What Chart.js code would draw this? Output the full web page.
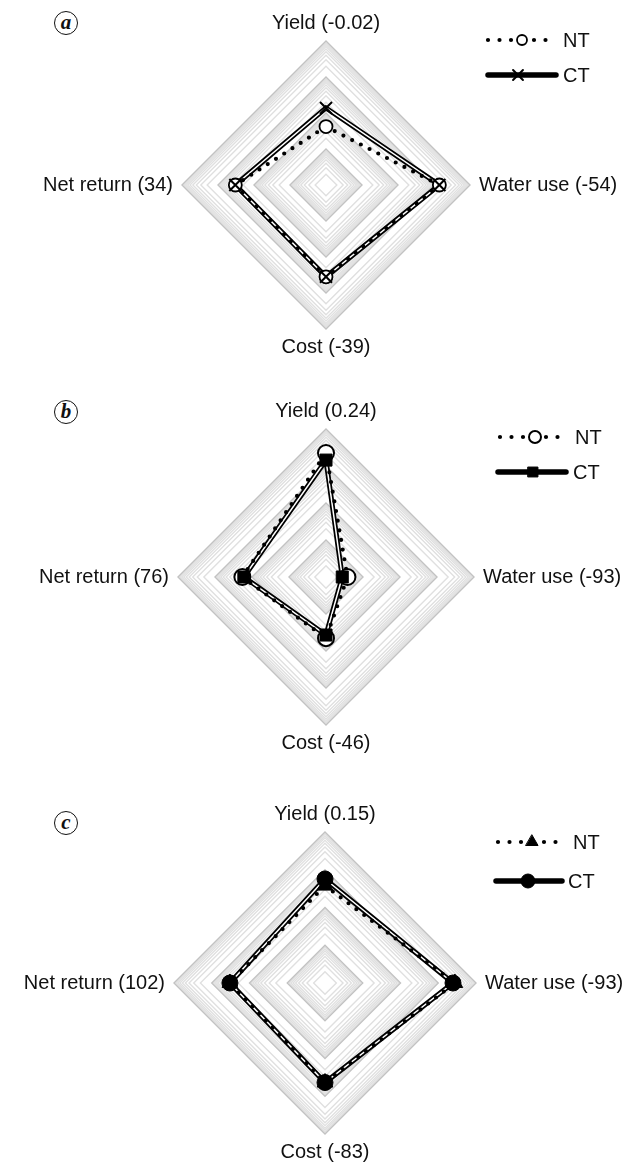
<!DOCTYPE html>
<html>
<head>
<meta charset="utf-8">
<script src="https://cdn.jsdelivr.net/npm/chart.js@4.4.1/dist/chart.umd.min.js"></script>
<style>
  html, body { margin: 0; padding: 0; background: #fff; }
  body { width: 643px; height: 1171px; position: relative; overflow: hidden; }
  .panel { position: absolute; left: 0; }
  .tag {
    position: absolute; width: 22px; height: 22px; border: 1.6px solid #111; border-radius: 50%;
    font: italic bold 21px "Liberation Serif", "Times New Roman", serif; color: #111;
    text-align: center; line-height: 20px;
  }
</style>
</head>
<body>
<div class="tag" style="left:54px;top:11px;">a</div>
<div class="tag" style="left:54px;top:400px;">b</div>
<div class="tag" style="left:54px;top:811px;">c</div>
<canvas id="chartA" class="panel" width="643" height="348" style="top:11px"></canvas>
<canvas id="chartB" class="panel" width="643" height="356" style="top:399px"></canvas>
<canvas id="chartC" class="panel" width="643" height="362" style="top:802px"></canvas>
<script>
// Axes (clockwise from the top) and the NT-vs-CT difference shown beside each axis name
const axisNames = ['Yield', 'Water use', 'Cost', 'Net return'];
const diffA = ['-0.02', '-54', '-39', '34'];
const diffB = ['0.24', '-93', '-46', '76'];
const diffC = ['0.15', '-93', '-83', '102'];

// Values on the logarithmic radial axis (1 at the centre, 10000 on the outer ring)
const ntA = [42, 1410, 355, 330];
const ctA = [138, 1410, 355, 330];
const ntB = [2240, 3.8, 45, 182];
const ctB = [1445, 2.75, 37, 166];
const ntC = [380, 2760, 433, 330];
const ctC = [570, 2460, 433, 330];

// Ring values: every 1..10 step inside each of four decades
const decades = [1, 10, 100, 1000];
const ringSteps = [2, 3, 4, 5, 6, 7, 8, 9, 10];
const ringValues = [1].concat(...decades.map(d => ringSteps.map(k => k * d)));

const FONT = '"Liberation Sans", Arial, Helvetica, sans-serif';

function legendPlugin(items) {
  return {
    id: 'pairLegend',
    afterDraw(chart) {
      const ctx = chart.ctx;
      ctx.save();
      items.forEach(it => {
        // line sample
        ctx.beginPath();
        ctx.strokeStyle = '#000';
        ctx.lineCap = 'round';
        ctx.lineWidth = it.lineWidth;
        ctx.setLineDash(it.dash);
        ctx.moveTo(it.x0, it.y);
        ctx.lineTo(it.x1, it.y);
        ctx.stroke();
        ctx.setLineDash([]);
        // marker
        ctx.fillStyle = it.fill;
        ctx.strokeStyle = '#000';
        ctx.lineWidth = it.marker.borderWidth;
        Chart.helpers.drawPoint(ctx, it.marker, it.mx, it.y);
        // text
        ctx.fillStyle = '#111';
        ctx.font = '20px ' + FONT;
        ctx.textAlign = 'left';
        ctx.textBaseline = 'middle';
        ctx.fillText(it.text, it.tx, it.y + 1);
      });
      ctx.restore();
    }
  };
}

function makeRadar(id, diffs, nt, ct, ntMarker, ctMarker, legendItems, padLeft) {
  const labels = axisNames.map((n, i) => n + ' (' + diffs[i] + ')');
  const ntLog = nt.map(v => Math.log10(v));
  const ctLog = ct.map(v => Math.log10(v));
  const base = { fill: false, tension: 0, pointHoverRadius: 0 };
  new Chart(document.getElementById(id), {
    type: 'radar',
    data: {
      labels,
      datasets: [
        // CT markers, drawn on top
        Object.assign({}, base, {
          label: 'CT', data: ctLog, showLine: false, order: 0,
          borderColor: '#000', backgroundColor: ctMarker.fill,
          pointStyle: ctMarker.pointStyle, pointRadius: ctMarker.radius,
          pointBorderWidth: ctMarker.borderWidth, pointBorderColor: '#000', pointBackgroundColor: ctMarker.fill
        }),
        // NT dotted line with its markers
        Object.assign({}, base, {
          label: 'NT', data: ntLog, order: 1,
          borderColor: '#000', borderWidth: 4.2, borderDash: [0, 9.8], borderCapStyle: 'round', borderJoinStyle: 'round',
          pointStyle: ntMarker.pointStyle, pointRadius: ntMarker.radius,
          pointBorderWidth: ntMarker.borderWidth, pointBorderColor: '#000', pointBackgroundColor: ntMarker.fill
        }),
        // CT line: thin white core over a heavy black stroke
        Object.assign({}, base, {
          label: 'CT core', data: ctLog, order: 2,
          borderColor: '#fff', borderWidth: 1.5, pointRadius: 0
        }),
        Object.assign({}, base, {
          label: 'CT line', data: ctLog, order: 3,
          borderColor: '#000', borderWidth: 5, borderJoinStyle: 'miter', pointRadius: 0
        })
      ]
    },
    options: {
      responsive: false,
      animation: false,
      devicePixelRatio: 1,
      layout: { padding: { left: padLeft } },
      plugins: { legend: { display: false }, tooltip: { enabled: false } },
      scales: {
        r: {
          min: 0,
          max: 4,
          afterBuildTicks(scale) {
            scale.ticks = ringValues.map(v => ({ value: Math.log10(v) }));
          },
          ticks: { display: false },
          angleLines: { display: false },
          grid: {
            lineWidth: 1.4,
            color(ctx) {
              const v = ctx.tick ? ctx.tick.value : 0;
              return Math.abs(v - Math.round(v)) < 1e-6 ? '#c2c2c2' : '#e0e0e0';
            }
          },
          pointLabels: {
            color: '#111',
            font: { family: FONT, size: 20 },
            padding(ctx) { return ctx.index % 2 ? 9 : 6; }
          }
        }
      }
    },
    plugins: [legendPlugin(legendItems)]
  });
}

function legendRows(ntRow, ctRow, ntMarker, ctMarker) {
  return [
    { text: 'NT', x0: ntRow.x0, x1: ntRow.x1, y: ntRow.y, mx: ntRow.mx, tx: ntRow.tx,
      lineWidth: 4.2, dash: [0, 11.5], fill: ntMarker.fill,
      marker: { pointStyle: ntMarker.pointStyle, radius: ntMarker.legendRadius, rotation: 0, borderWidth: ntMarker.borderWidth } },
    { text: 'CT', x0: ctRow.x0, x1: ctRow.x1, y: ctRow.y, mx: ctRow.mx, tx: ctRow.tx,
      lineWidth: 5.5, dash: [], fill: ctMarker.fill,
      marker: { pointStyle: ctMarker.pointStyle, radius: ctMarker.legendRadius, rotation: 0, borderWidth: ctMarker.borderWidth } }
  ];
}

const openCircleS = { pointStyle: 'circle', radius: 6.5, legendRadius: 5, borderWidth: 1.8, fill: '#fff' };
const crossS = { pointStyle: 'crossRot', radius: 8.5, legendRadius: 7, borderWidth: 2, fill: '#000' };
const openCircleL = { pointStyle: 'circle', radius: 8, legendRadius: 6, borderWidth: 2, fill: '#fff' };
const squareS = { pointStyle: 'rect', radius: 8.5, legendRadius: 7, borderWidth: 1, fill: '#000' };
const triangleS = { pointStyle: 'triangle', radius: 9, legendRadius: 7, borderWidth: 1, fill: '#000' };
const dotS = { pointStyle: 'circle', radius: 8, legendRadius: 7, borderWidth: 1, fill: '#000' };

makeRadar('chartA', diffA, ntA, ctA, openCircleS, crossS,
  legendRows({ x0: 488, x1: 548, y: 29, mx: 522, tx: 563 }, { x0: 488, x1: 556, y: 64, mx: 518, tx: 563 }, openCircleS, crossS), 19);
makeRadar('chartB', diffB, ntB, ctB, openCircleL, squareS,
  legendRows({ x0: 500, x1: 560, y: 38, mx: 535, tx: 575 }, { x0: 498, x1: 566, y: 73, mx: 533, tx: 573 }, openCircleL, squareS), 19);
makeRadar('chartC', diffC, ntC, ctC, triangleS, dotS,
  legendRows({ x0: 498, x1: 557, y: 40, mx: 532, tx: 573 }, { x0: 496, x1: 562, y: 79, mx: 528, tx: 568 }, triangleS, dotS), 6);
</script>
</body>
</html>
